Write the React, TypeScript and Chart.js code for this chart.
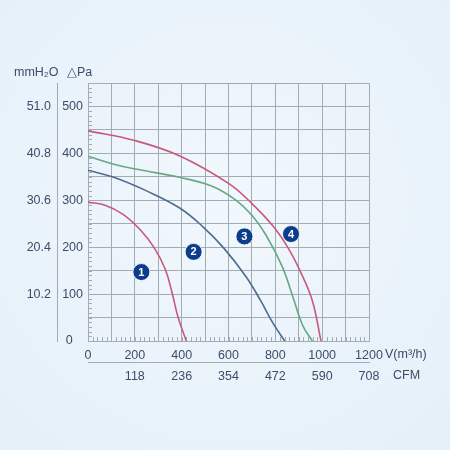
import React, { useEffect, useRef } from "react";
import { Chart, registerables } from "chart.js";

Chart.register(...registerables);

// ---- data (flow m³/h, static pressure Pa) ----
const curve1Flow = [0, 70, 150, 225, 285, 330, 358, 385, 420];
const curve1Pa = [296, 290, 270, 236, 197, 153, 105, 50, 0];

const curve2Flow = [0, 110, 250, 390, 490, 580, 675, 735, 790, 840];
const curve2Pa = [364, 349, 320, 284, 244, 198, 137, 88, 38, 0];

const curve3Flow = [0, 110, 210, 390, 530, 630, 700, 760, 830, 875, 918, 958];
const curve3Pa = [394, 377, 366, 349, 330, 301, 268, 226, 158, 94, 32, 0];

const curve4Flow = [0, 195, 390, 600, 700, 790, 855, 905, 958, 995];
const curve4Pa = [448, 428, 395, 336, 293, 245, 198, 150, 86, 0];

const badgeLabels = ["1", "2", "3", "4"];
const badgeFlow = [228, 451, 668, 867];
const badgePa = [147, 190, 223, 228];

const flowMax = 1200;
const paMax = 550;
const cfmFactor = 0.59;
const mmFactor = 0.102;

const titleLeft = "mmH₂O";
const titleRight = "△Pa";
const xUnit = "V(m³/h)";
const cfmUnit = "CFM";

const FONT = "'Liberation Sans', Arial, Helvetica, sans-serif";
const TEXT = "#3f4b69";
const GRID = "#a3abb5";
const RED = "#c8587c";
const BLUE = "#4d6c8f";
const GREEN = "#67a882";
const NAVY = "#0c3d8d";

const zip = (xs: number[], ys: number[]) => xs.map((x, i) => ({ x, y: ys[i] }));

const extrasPlugin = {
  id: "extras",
  beforeDatasetsDraw(chart: any) {
    const { ctx, chartArea, scales } = chart;
    const xs = scales.x;
    const ys = scales.y;
    ctx.save();
    ctx.strokeStyle = GRID;
    ctx.lineWidth = 1;
    ctx.beginPath();
    for (let v = 0; v <= paMax; v += 10) {
      const py = Math.round(ys.getPixelForValue(v)) + 0.5;
      ctx.moveTo(chartArea.left, py);
      ctx.lineTo(chartArea.left + 4, py);
    }
    for (let v = 0; v <= flowMax; v += 20) {
      const px = Math.round(xs.getPixelForValue(v)) + 0.5;
      ctx.moveTo(px, chartArea.bottom);
      ctx.lineTo(px, chartArea.bottom - 4);
    }
    ctx.stroke();
    ctx.restore();
  },
  afterDraw(chart: any) {
    const { ctx, scales } = chart;
    const xs = scales.x;
    ctx.save();
    ctx.fillStyle = TEXT;
    ctx.font = `12.5px ${FONT}`;
    ctx.textBaseline = "middle";
    ctx.textAlign = "left";
    ctx.fillText(titleLeft, 14, 73);
    ctx.fillText(titleRight, 67, 73);
    const p1200 = xs.getPixelForValue(flowMax);
    ctx.fillText(xUnit, p1200 + 16, 355);
    ctx.fillText(cfmUnit, p1200 + 24, 376);

    // badge numbers
    const meta = chart.getDatasetMeta(4);
    ctx.fillStyle = "#ffffff";
    ctx.font = `bold 11px ${FONT}`;
    ctx.textAlign = "center";
    meta.data.forEach((pt: any, i: number) => {
      ctx.fillText(badgeLabels[i], pt.x, pt.y + 0.5);
    });
    ctx.restore();
  },
};

function App() {
  const ref = useRef<HTMLCanvasElement>(null);
  useEffect(() => {
    if (!ref.current) return;
    const lineDs = (flow: number[], pa: number[], color: string) => ({
      type: "line" as const,
      data: zip(flow, pa),
      borderColor: color,
      borderWidth: 1.6,
      pointRadius: 0,
      fill: false,
      tension: 0.4,
      xAxisID: "x",
      yAxisID: "y",
    });
    const chart = new Chart(ref.current, {
      type: "line",
      data: {
        datasets: [
          lineDs(curve1Flow, curve1Pa, RED),
          lineDs(curve2Flow, curve2Pa, BLUE),
          lineDs(curve3Flow, curve3Pa, GREEN),
          lineDs(curve4Flow, curve4Pa, RED),
          {
            type: "scatter" as const,
            data: zip(badgeFlow, badgePa),
            pointRadius: 8.5,
            pointBackgroundColor: NAVY,
            pointBorderColor: "rgba(255,255,255,0.8)",
            pointBorderWidth: 1,
            showLine: false,
            xAxisID: "x",
            yAxisID: "y",
          } as any,
        ],
      },
      options: {
        responsive: false,
        animation: false,
        events: [],
        layout: { padding: { left: 0, top: 83, right: 81, bottom: 64 } },
        plugins: { legend: { display: false }, tooltip: { enabled: false } },
        scales: {
          x: {
            type: "linear",
            position: "bottom",
            weight: 0,
            min: 0,
            max: flowMax,
            afterFit: (s: any) => { s.height = 21; },
            grid: { color: GRID, lineWidth: 1, drawTicks: false },
            border: { color: GRID, width: 1 },
            ticks: {
              stepSize: 100,
              autoSkip: false,
              maxRotation: 0,
              padding: 7,
              color: TEXT,
              font: { family: FONT, size: 12.5 },
              callback: (v: any) => (Number(v) % 200 === 0 ? String(v) : ""),
            },
          },
          cfm: {
            type: "linear",
            position: "bottom",
            weight: 1,
            min: 0,
            max: flowMax,
            afterFit: (s: any) => { s.height = 24; },
            grid: { display: false, drawTicks: false },
            border: { display: true, color: GRID, width: 1 },
            ticks: {
              stepSize: 100,
              autoSkip: false,
              maxRotation: 0,
              padding: 7,
              color: TEXT,
              font: { family: FONT, size: 12.5 },
              callback: (v: any) => {
                const n = Number(v);
                return n > 0 && n % 200 === 0 ? String(Math.round(n * cfmFactor)) : "";
              },
            },
          },
          y: {
            type: "linear",
            position: "left",
            weight: 0,
            min: 0,
            max: paMax,
            afterFit: (s: any) => { s.width = 31; },
            grid: { color: GRID, lineWidth: 1, drawTicks: false },
            border: { color: GRID, width: 1 },
            ticks: {
              stepSize: 50,
              autoSkip: false,
              padding: 5,
              color: TEXT,
              font: { family: FONT, size: 12.5 },
              callback: (v: any) => {
                const n = Number(v);
                if (n === 0) return "0   ";
                return n % 100 === 0 && n <= 500 ? String(n) : "";
              },
            },
          },
          mm: {
            type: "linear",
            position: "left",
            weight: 1,
            min: 0,
            max: paMax,
            afterFit: (s: any) => { s.width = 57; },
            grid: { display: false, drawTicks: false },
            border: { display: true, color: GRID, width: 1 },
            ticks: {
              stepSize: 50,
              autoSkip: false,
              padding: 6,
              color: TEXT,
              font: { family: FONT, size: 12.5 },
              callback: (v: any) => {
                const n = Number(v);
                return n > 0 && n % 100 === 0 && n <= 500 ? (n * mmFactor).toFixed(1) : "";
              },
            },
          },
        },
      } as any,
      plugins: [extrasPlugin],
    });
    return () => chart.destroy();
  }, []);

  return (
    <div
      style={{
        position: "fixed",
        left: 0,
        top: 0,
        width: 450,
        height: 450,
        background: "radial-gradient(circle at 50% 45%, #f1f8fd 0%, #e8f2fa 70%, #e4eff8 100%)",
      }}
    >
      <canvas ref={ref} width={450} height={450} style={{ width: 450, height: 450, display: "block" }} />
    </div>
  );
}

export default App;
